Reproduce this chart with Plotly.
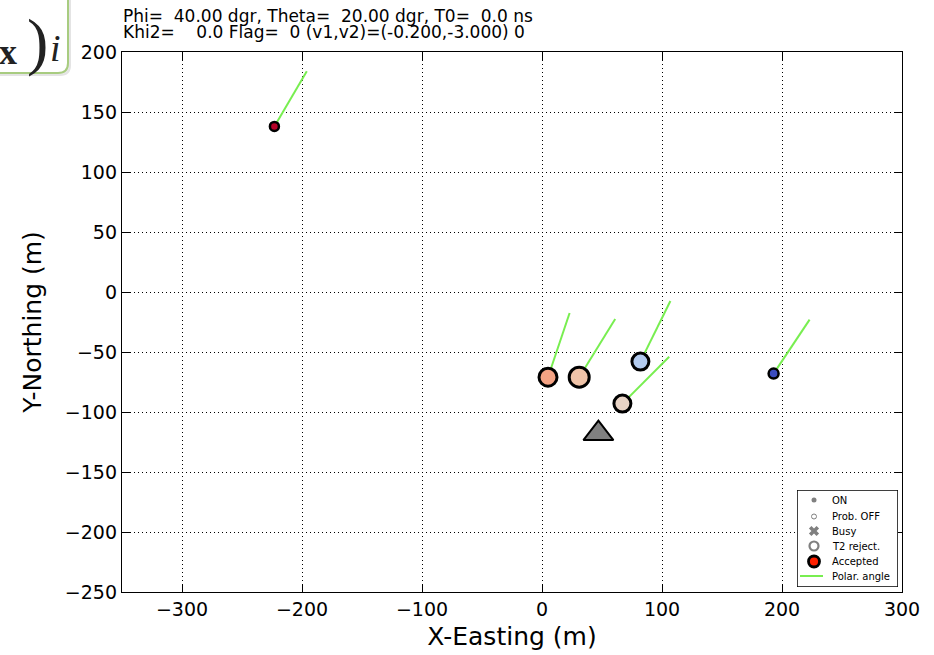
import plotly.graph_objects as go

# ---------------- data ----------------
station_x = [-223, 5, 31, 82, 67, 193]
station_y = [138, -71, -71, -58, -93, -68]
polar_end_x = [-196, 23, 61, 107, 106, 223]
polar_end_y = [184, -17.5, -22.5, -7.5, -54, -23]
station_color = ["#b40426", "#f4a384", "#f0c4a9", "#b3cbef", "#e8d3c5", "#3b4cc0"]
station_size = [9, 18, 20, 17, 17, 10]
station_edge = [2.5, 3, 3, 3, 3, 2.5]

core_x = [47]
core_y = [-118]

x_ticks = [-300, -200, -100, 0, 100, 200, 300]
y_ticks = [200, 150, 100, 50, 0, -50, -100, -150, -200, -250]

title_line1 = "Phi=  40.00 dgr, Theta=  20.00 dgr, T0=  0.0 ns"
title_line2 = "Khi2=    0.0 Flag=  0 (v1,v2)=(-0.200,-3.000) 0"

legend_labels = ["ON", "Prob. OFF", "Busy", "T2 reject.", "Accepted", "Polar. angle"]

# ---------------- layout geometry ----------------
W, H = 934, 655
L, R, T, B = 122, 902, 52, 592
FONT = "DejaVu Sans"


def px2x(px):
    return (px - L) / (R - L)


def py2y(py):
    return (B - py) / (B - T)


fig = go.Figure()

# polar angle lines
lx, ly = [], []
for x0, y0, x1, y1 in zip(station_x, station_y, polar_end_x, polar_end_y):
    lx += [x0, x1, None]
    ly += [y0, y1, None]
fig.add_trace(go.Scatter(x=lx, y=ly, mode="lines",
                         line=dict(color="#78ee50", width=2),
                         hoverinfo="skip", showlegend=False))

# stations
fig.add_trace(go.Scatter(
    x=station_x, y=station_y, mode="markers",
    marker=dict(color=station_color, size=station_size, opacity=1,
                line=dict(color="black", width=station_edge)),
    showlegend=False))

# core
fig.add_trace(go.Scatter(
    x=core_x, y=core_y, mode="markers",
    marker=dict(symbol="triangle-up", color="#808080", size=26, opacity=1,
                line=dict(color="black", width=2)),
    showlegend=False))

# ---------------- manual legend (in its own small axes) ----------------
leg_rows = [10, 26.5, 41, 56, 71.5, 86]
leg_marker_x = 17
leg_text_x = 33
leg_specs = [
    dict(symbol="circle", color="#808080", size=5, line=dict(width=0)),
    dict(symbol="circle-open", color="#808080", size=5, line=dict(width=1, color="#808080")),
    dict(symbol="x", color="#808080", size=9, line=dict(width=0)),
    dict(symbol="circle-open", color="#808080", size=9, line=dict(width=2.2, color="#808080")),
    dict(symbol="circle", color="#ff2000", size=11, line=dict(width=2.8, color="black")),
]
for spec, yy in zip(leg_specs, leg_rows[:5]):
    fig.add_trace(go.Scatter(x=[leg_marker_x], y=[yy], mode="markers", marker=spec,
                             xaxis="x2", yaxis="y2", showlegend=False, hoverinfo="skip"))
fig.add_trace(go.Scatter(x=[3, 26], y=[leg_rows[5]] * 2, mode="lines",
                         line=dict(color="#78ee50", width=2),
                         xaxis="x2", yaxis="y2", showlegend=False, hoverinfo="skip"))

annotations = []
for lab, yy in zip(legend_labels, leg_rows):
    annotations.append(dict(x=leg_text_x, y=yy, xref="x2", yref="y2", text=lab,
                            showarrow=False, xanchor="left", yanchor="middle",
                            font=dict(family=FONT, size=10, color="black")))

# title lines
nb = lambda s: s.replace(" ", "\u00a0")
annotations.append(dict(x=px2x(121), y=py2y(16), xref="paper", yref="paper",
                        text=nb(title_line1), showarrow=False, xanchor="left",
                        yanchor="middle", font=dict(family=FONT, size=17, color="black")))
annotations.append(dict(x=px2x(121), y=py2y(32), xref="paper", yref="paper",
                        text=nb(title_line2), showarrow=False, xanchor="left",
                        yanchor="middle", font=dict(family=FONT, size=17, color="black")))

# top-left inset fragment "x)_i"
annotations.append(dict(x=px2x(8), y=py2y(52), xref="paper", yref="paper",
                        text="<b>x</b>", showarrow=False, xanchor="center", yanchor="middle",
                        font=dict(family="Liberation Serif", size=36, color="#222222")))
annotations.append(dict(x=px2x(37), y=py2y(41), xref="paper", yref="paper",
                        text=")", showarrow=False, xanchor="center", yanchor="middle",
                        font=dict(family="Liberation Serif", size=64, color="#222222")))
annotations.append(dict(x=px2x(55), y=py2y(48), xref="paper", yref="paper",
                        text="<i>i</i>", showarrow=False, xanchor="center", yanchor="middle",
                        font=dict(family="Liberation Serif", size=38, color="#222222")))


def rounded_rect(x0, y0, x1, y1, r):
    X = px2x
    Y = py2y
    return (f"M {X(x0)},{Y(y0)} L {X(x1 - r)},{Y(y0)} Q {X(x1)},{Y(y0)} {X(x1)},{Y(y0 + r)} "
            f"L {X(x1)},{Y(y1 - r)} Q {X(x1)},{Y(y1)} {X(x1 - r)},{Y(y1)} "
            f"L {X(x0)},{Y(y1)} Z")


shapes = [
    dict(type="path", xref="paper", yref="paper", path=rounded_rect(-20, -10, 70, 75, 10),
         line=dict(color="#e4e4e4", width=2), fillcolor="#eeeeee", layer="below"),
    dict(type="path", xref="paper", yref="paper", path=rounded_rect(-20, -10, 68, 73, 10),
         line=dict(color="#a8cc80", width=2), fillcolor="white", layer="below"),
    # legend frame
    dict(type="rect", xref="x2", yref="y2", x0=0, x1=101, y0=0, y1=97,
         line=dict(color="black", width=1.5), fillcolor="rgba(255,255,255,0)", layer="below"),
]

axis_common = dict(
    showline=True, linecolor="black", linewidth=1.3, mirror="allticks",
    ticks="inside", ticklen=8, tickwidth=1, tickcolor="black",
    showgrid=True, gridcolor="black", gridwidth=1, griddash="1px,3px",
    zeroline=False, tickfont=dict(family=FONT, size=19, color="black"),
)

fig.update_layout(
    width=W, height=H,
    margin=dict(l=L, r=W - R, t=T, b=H - B, autoexpand=False),
    paper_bgcolor="white", plot_bgcolor="white",
    showlegend=False,
    xaxis=dict(range=[-350, 300], tickvals=x_ticks, **axis_common,
               title=dict(text="X-Easting (m)", font=dict(family=FONT, size=25, color="black"),
                          standoff=8)),
    yaxis=dict(range=[-250, 200], tickvals=y_ticks, **axis_common,
               title=dict(text="Y-Northing (m)", font=dict(family=FONT, size=25, color="black"),
                          standoff=16)),
    xaxis2=dict(domain=[px2x(797), px2x(898)], range=[0, 101], anchor="y2",
                visible=False, fixedrange=True),
    yaxis2=dict(domain=[py2y(587), py2y(490)], range=[97, 0], anchor="x2",
                visible=False, fixedrange=True),
    annotations=annotations,
    shapes=shapes,
)

fig.write_html("out.html")
